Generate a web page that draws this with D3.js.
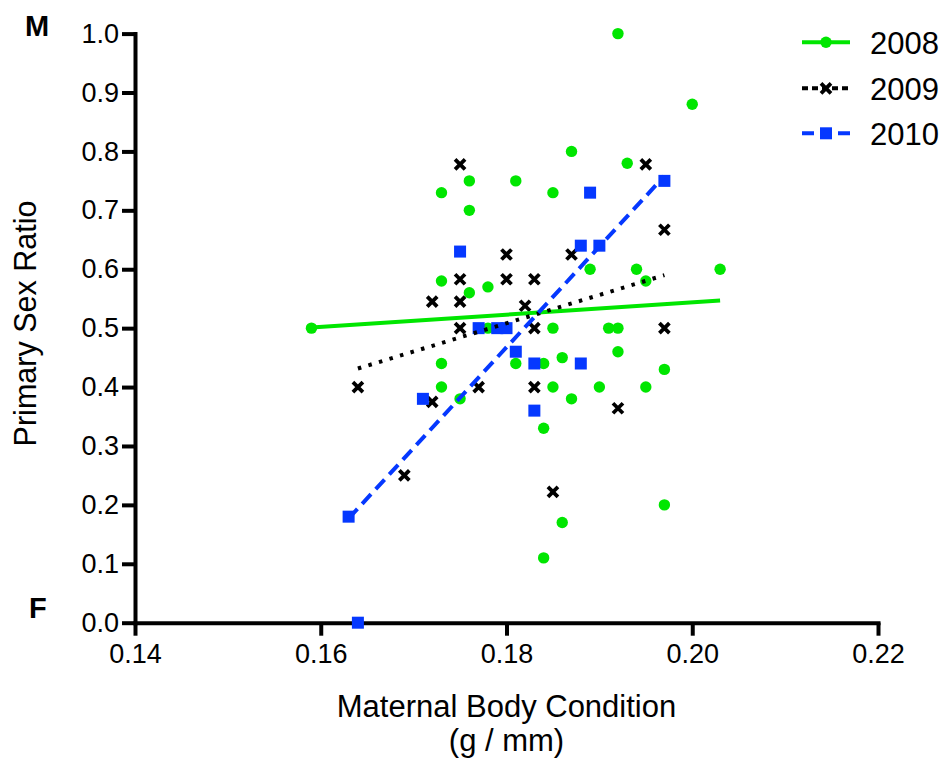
<!DOCTYPE html>
<html>
<head>
<meta charset="utf-8">
<script src="https://cdn.jsdelivr.net/npm/d3@7"></script>
<style>
  html, body { margin: 0; padding: 0; background: #fff; }
  svg { display: block; font-family: "Liberation Sans", Arial, Helvetica, sans-serif; }
</style>
</head>
<body>
<svg id="chart" width="944" height="760"></svg>
<script>
// ---- data ----
const series = ["2008", "2009", "2010"];
const colors = ["#00e600", "#000000", "#0538ff"];

const x2008 = [0.159,0.173,0.173,0.173,0.173,0.175,0.176,0.176,0.176,0.178,0.178,0.181,0.181,0.184,0.184,0.184,0.185,0.185,0.185,0.186,0.186,0.187,0.187,0.189,0.190,0.191,0.192,0.192,0.192,0.193,0.194,0.195,0.195,0.197,0.197,0.200,0.203];
const y2008 = [0.50,0.73,0.58,0.44,0.40,0.38,0.75,0.70,0.56,0.57,0.50,0.75,0.44,0.44,0.33,0.11,0.73,0.50,0.40,0.45,0.17,0.80,0.38,0.60,0.40,0.50,1.00,0.50,0.46,0.78,0.60,0.58,0.40,0.43,0.20,0.88,0.60];

const x2009 = [0.164,0.169,0.172,0.172,0.175,0.175,0.175,0.175,0.177,0.180,0.180,0.182,0.183,0.183,0.183,0.185,0.187,0.192,0.195,0.197,0.197];
const y2009 = [0.400,0.250,0.545,0.375,0.778,0.583,0.545,0.500,0.400,0.625,0.583,0.538,0.583,0.500,0.400,0.222,0.625,0.364,0.778,0.667,0.500];

const x2010 = [0.163,0.164,0.171,0.175,0.177,0.179,0.180,0.181,0.183,0.183,0.188,0.188,0.189,0.190,0.197];
const y2010 = [0.18,0.00,0.38,0.63,0.50,0.50,0.50,0.46,0.44,0.36,0.64,0.44,0.73,0.64,0.75];

const xTicks = [0.14, 0.16, 0.18, 0.20, 0.22];
const yTicks = [0.0, 0.1, 0.2, 0.3, 0.4, 0.5, 0.6, 0.7, 0.8, 0.9, 1.0];

const xTitle = ["Maternal Body Condition", "(g / mm)"];
const yTitle = "Primary Sex Ratio";

// ---- chart ----
const svg = d3.select("#chart");
const x = d3.scaleLinear().domain([0.14, 0.22]).range([135, 878]);
const y = d3.scaleLinear().domain([0, 1]).range([622.7, 33.6]);

const data = [
  {name: series[0], xs: x2008, ys: y2008, color: colors[0], shape: "circle", dash: null},
  {name: series[1], xs: x2009, ys: y2009, color: colors[1], shape: "cross", dash: "3.5,7.5", legendDash: "6,4"},
  {name: series[2], xs: x2010, ys: y2010, color: colors[2], shape: "square", dash: "13,7", legendDash: "12,6"}
];

// axes
const xAxis = d3.axisBottom(x).tickValues(xTicks).tickFormat(d3.format(".2f"))
  .tickSize(13).tickSizeOuter(0).tickPadding(8);
const yAxis = d3.axisLeft(y).tickValues(yTicks).tickFormat(d3.format(".1f"))
  .tickSize(13).tickSizeOuter(0).tickPadding(3);

function styleAxis(g) {
  g.select(".domain").attr("stroke", "#000").attr("stroke-width", 4).attr("stroke-linecap", "square");
  g.selectAll(".tick line").attr("stroke", "#000").attr("stroke-width", 4);
  g.selectAll(".tick text").attr("fill", "#000").style("font-size", "27px")
    .style("font-family", '"Liberation Sans", Arial, sans-serif');
}
svg.append("g").attr("transform", "translate(0,622.7)").call(xAxis).call(styleAxis);
svg.append("g").attr("transform", "translate(135,0)").call(yAxis).call(styleAxis);

// axis titles
const xt = svg.append("text").attr("text-anchor", "middle").style("font-size", "31px").attr("fill", "#000");
xt.append("tspan").attr("x", 506.5).attr("y", 717).text(xTitle[0]);
xt.append("tspan").attr("x", 506.5).attr("y", 751).text(xTitle[1]);

svg.append("text").attr("transform", "translate(36,323.5) rotate(-90)")
  .attr("text-anchor", "middle").style("font-size", "30.5px").attr("fill", "#000").text(yTitle);

// M / F labels
svg.append("text").attr("x", 25).attr("y", 36).style("font-size", "29px").style("font-weight", "bold").text("M");
svg.append("text").attr("x", 29).attr("y", 618).style("font-size", "29px").style("font-weight", "bold").text("F");

// markers
function drawMarker(g, shape, color, cx, cy) {
  if (shape === "circle") {
    g.append("circle").attr("cx", cx).attr("cy", cy).attr("r", 5.7).attr("fill", color);
  } else if (shape === "square") {
    g.append("rect").attr("x", cx - 6).attr("y", cy - 6).attr("width", 12).attr("height", 12).attr("fill", color);
  } else {
    const s = 5;
    g.append("path").attr("d", `M${cx - s},${cy - s}L${cx + s},${cy + s}M${cx - s},${cy + s}L${cx + s},${cy - s}`)
      .attr("stroke", color).attr("stroke-width", 3.8).attr("fill", "none");
  }
}

const pts = svg.append("g");
data.forEach(s => {
  const g = pts.append("g");
  s.xs.forEach((xv, i) => drawMarker(g, s.shape, s.color, x(xv), y(s.ys[i])));
});

// least-squares regression lines over the data range
function fit(xs, ys) {
  const mx = d3.mean(xs), my = d3.mean(ys);
  let sxy = 0, sxx = 0;
  xs.forEach((v, i) => { sxy += (v - mx) * (ys[i] - my); sxx += (v - mx) * (v - mx); });
  const b = sxy / sxx, a = my - b * mx;
  const x0 = d3.min(xs), x1 = d3.max(xs);
  return [[x0, a + b * x0], [x1, a + b * x1]];
}
const line = d3.line().x(d => x(d[0])).y(d => y(d[1]));
data.forEach(s => {
  const p = svg.append("path").datum(fit(s.xs, s.ys)).attr("d", line)
    .attr("fill", "none").attr("stroke", s.color).attr("stroke-width", 4);
  if (s.dash) p.attr("stroke-dasharray", s.dash);
});

// legend
const legY = [42.3, 88.3, 133.3];
const leg = svg.append("g");
data.forEach((s, i) => {
  const l = leg.append("line").attr("x1", 802).attr("x2", 850).attr("y1", legY[i]).attr("y2", legY[i])
    .attr("stroke", s.color).attr("stroke-width", 4);
  if (s.legendDash) l.attr("stroke-dasharray", s.legendDash);
  drawMarker(leg, s.shape, s.color, 826, legY[i]);
  leg.append("text").attr("x", 870).attr("y", legY[i] + 11.5).style("font-size", "31px").attr("fill", "#000").text(s.name);
});
</script>
</body>
</html>
